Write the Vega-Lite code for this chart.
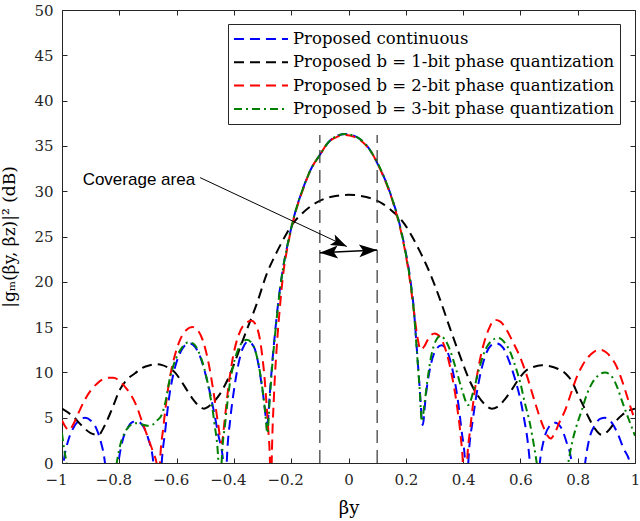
{
  "$schema": "https://vega.github.io/schema/vega-lite/v6.json",
  "width": 573,
  "height": 453,
  "autosize": "none",
  "padding": {"left": 62, "top": 10, "right": 5, "bottom": 58},
  "background": "white",
  "config": {
    "view": {"stroke": null},
    "axis": {
      "grid": false,
      "domainColor": "#262626",
      "tickColor": "#262626",
      "labelColor": "#262626",
      "titleColor": "#000000",
      "labelFont": "DejaVu Serif",
      "titleFont": "DejaVu Serif",
      "labelFontSize": 15,
      "titleFontSize": 17,
      "titleFontWeight": "normal",
      "domainWidth": 1,
      "tickWidth": 1
    }
  },
  "datasets": {
    "cont": [
      {"b":-1,"g":-1.5},{"b":-0.99,"g":1.0},{"b":-0.98,"g":2.3},{"b":-0.96,"g":3.9},{"b":-0.94,"g":4.7},{"b":-0.92,"g":5.0},{"b":-0.9,"g":4.7},{"b":-0.88,"g":3.8},{"b":-0.865,"g":2.4},{"b":-0.85,"g":0},{"b":-0.827,"g":-10},{"b":-0.803,"g":0},{"b":-0.79,"g":2.3},{"b":-0.77,"g":3.9},{"b":-0.755,"g":4.5},{"b":-0.739,"g":4.6},{"b":-0.72,"g":4.2},{"b":-0.7,"g":2.8},{"b":-0.681,"g":0},{"b":-0.667,"g":-10},{"b":-0.652,"g":0},{"b":-0.64,"g":3.5},{"b":-0.625,"g":7.5},{"b":-0.61,"g":10.0},{"b":-0.59,"g":12.0},{"b":-0.57,"g":13.0},{"b":-0.553,"g":13.2},{"b":-0.535,"g":12.8},{"b":-0.515,"g":11.5},{"b":-0.495,"g":9.3},{"b":-0.475,"g":6.5},{"b":-0.455,"g":3.2},{"b":-0.437,"g":0},{"b":-0.431,"g":-8},{"b":-0.425,"g":0},{"b":-0.412,"g":5.0},{"b":-0.4,"g":8.0},{"b":-0.385,"g":10.8},{"b":-0.37,"g":12.6},{"b":-0.35,"g":13.4},{"b":-0.33,"g":12.8},{"b":-0.315,"g":11.0},{"b":-0.3,"g":8.0},{"b":-0.283,"g":4.4},{"b":-0.275,"g":7.5},{"b":-0.265,"g":11.5},{"b":-0.255,"g":14.8},{"b":-0.245,"g":17.8},{"b":-0.23,"g":21.2},{"b":-0.21,"g":24.5},{"b":-0.19,"g":27.2},{"b":-0.16,"g":30.2},{"b":-0.13,"g":32.5},{"b":-0.1,"g":34.0},{"b":-0.07,"g":35.4},{"b":-0.04,"g":36.1},{"b":-0.012,"g":36.3},{"b":0.02,"g":36.1},{"b":0.05,"g":35.5},{"b":0.08,"g":34.3},{"b":0.105,"g":32.8},{"b":0.13,"g":31.1},{"b":0.155,"g":28.9},{"b":0.175,"g":26.8},{"b":0.195,"g":24.0},{"b":0.216,"g":20.2},{"b":0.228,"g":17.0},{"b":0.238,"g":12.8},{"b":0.248,"g":8.5},{"b":0.259,"g":4.2},{"b":0.27,"g":7.5},{"b":0.285,"g":10.5},{"b":0.305,"g":12.5},{"b":0.325,"g":13.0},{"b":0.345,"g":12.3},{"b":0.365,"g":10.0},{"b":0.38,"g":7.3},{"b":0.395,"g":3.5},{"b":0.407,"g":0},{"b":0.412,"g":-8},{"b":0.418,"g":0},{"b":0.435,"g":5.0},{"b":0.455,"g":9.0},{"b":0.475,"g":11.6},{"b":0.495,"g":12.9},{"b":0.517,"g":13.2},{"b":0.54,"g":12.7},{"b":0.56,"g":11.3},{"b":0.58,"g":9.4},{"b":0.6,"g":7.0},{"b":0.615,"g":4.5},{"b":0.625,"g":2.5},{"b":0.633,"g":0},{"b":0.65,"g":-10},{"b":0.668,"g":0},{"b":0.68,"g":2.3},{"b":0.7,"g":4.0},{"b":0.721,"g":4.45},{"b":0.74,"g":4.0},{"b":0.76,"g":2.4},{"b":0.779,"g":0},{"b":0.8,"g":-10},{"b":0.826,"g":0},{"b":0.84,"g":2.6},{"b":0.86,"g":4.2},{"b":0.88,"g":4.9},{"b":0.895,"g":5.0},{"b":0.92,"g":4.4},{"b":0.94,"g":3.2},{"b":0.96,"g":1.6},{"b":0.982,"g":0},{"b":1,"g":-6}
    ],
    "bit1": [
      {"b":-1,"g":6.0},{"b":-0.96,"g":5.1},{"b":-0.93,"g":4.1},{"b":-0.9,"g":3.3},{"b":-0.873,"g":3.1},{"b":-0.85,"g":4.2},{"b":-0.825,"g":6.0},{"b":-0.798,"g":8.1},{"b":-0.77,"g":9.3},{"b":-0.745,"g":9.9},{"b":-0.72,"g":10.5},{"b":-0.693,"g":10.8},{"b":-0.67,"g":10.9},{"b":-0.65,"g":10.8},{"b":-0.628,"g":10.5},{"b":-0.606,"g":10.0},{"b":-0.585,"g":9.1},{"b":-0.565,"g":8.1},{"b":-0.542,"g":7.0},{"b":-0.522,"g":6.3},{"b":-0.505,"g":6.0},{"b":-0.49,"g":6.2},{"b":-0.472,"g":6.7},{"b":-0.449,"g":7.6},{"b":-0.425,"g":9.0},{"b":-0.402,"g":10.7},{"b":-0.38,"g":12.6},{"b":-0.355,"g":14.7},{"b":-0.32,"g":17.6},{"b":-0.285,"g":20.9},{"b":-0.25,"g":23.3},{"b":-0.22,"g":25.1},{"b":-0.195,"g":26.4},{"b":-0.16,"g":27.6},{"b":-0.12,"g":28.6},{"b":-0.08,"g":29.2},{"b":-0.04,"g":29.5},{"b":0,"g":29.6},{"b":0.04,"g":29.5},{"b":0.08,"g":29.2},{"b":0.12,"g":28.6},{"b":0.16,"g":27.6},{"b":0.195,"g":26.4},{"b":0.22,"g":25.1},{"b":0.25,"g":23.3},{"b":0.285,"g":20.9},{"b":0.32,"g":18.0},{"b":0.355,"g":14.8},{"b":0.38,"g":12.6},{"b":0.4,"g":10.9},{"b":0.424,"g":9.0},{"b":0.45,"g":7.5},{"b":0.475,"g":6.5},{"b":0.5,"g":6.0},{"b":0.52,"g":6.2},{"b":0.545,"g":7.0},{"b":0.57,"g":8.1},{"b":0.595,"g":9.3},{"b":0.62,"g":10.2},{"b":0.645,"g":10.6},{"b":0.674,"g":10.8},{"b":0.7,"g":10.7},{"b":0.73,"g":10.4},{"b":0.76,"g":9.8},{"b":0.78,"g":9.0},{"b":0.8,"g":7.6},{"b":0.82,"g":6.3},{"b":0.837,"g":5.1},{"b":0.86,"g":3.8},{"b":0.884,"g":3.1},{"b":0.905,"g":3.5},{"b":0.93,"g":4.5},{"b":0.955,"g":5.3},{"b":0.98,"g":5.8},{"b":1,"g":6.0}
    ],
    "bit2": [
      {"b":-1,"g":4.7},{"b":-0.988,"g":4.0},{"b":-0.975,"g":3.6},{"b":-0.96,"g":4.3},{"b":-0.94,"g":5.7},{"b":-0.92,"g":7.0},{"b":-0.9,"g":8.0},{"b":-0.88,"g":8.7},{"b":-0.86,"g":9.2},{"b":-0.84,"g":9.4},{"b":-0.821,"g":9.4},{"b":-0.8,"g":9.1},{"b":-0.78,"g":8.4},{"b":-0.763,"g":7.7},{"b":-0.74,"g":6.3},{"b":-0.722,"g":4.7},{"b":-0.7,"g":2.8},{"b":-0.681,"g":1.1},{"b":-0.67,"g":0},{"b":-0.664,"g":-8},{"b":-0.658,"g":0},{"b":-0.646,"g":4.0},{"b":-0.635,"g":7.0},{"b":-0.623,"g":9.5},{"b":-0.605,"g":12.0},{"b":-0.588,"g":13.6},{"b":-0.565,"g":14.7},{"b":-0.545,"g":15.0},{"b":-0.525,"g":14.6},{"b":-0.505,"g":13.2},{"b":-0.487,"g":10.8},{"b":-0.47,"g":7.6},{"b":-0.455,"g":4.3},{"b":-0.443,"g":2.2},{"b":-0.432,"g":4.8},{"b":-0.42,"g":8.2},{"b":-0.405,"g":11.4},{"b":-0.385,"g":14.0},{"b":-0.36,"g":15.4},{"b":-0.338,"g":15.7},{"b":-0.32,"g":15.0},{"b":-0.305,"g":12.8},{"b":-0.292,"g":9.0},{"b":-0.282,"g":4.5},{"b":-0.274,"g":0},{"b":-0.271,"g":-6},{"b":-0.268,"g":0},{"b":-0.26,"g":7.5},{"b":-0.25,"g":13.0},{"b":-0.24,"g":17.0},{"b":-0.23,"g":20.3},{"b":-0.21,"g":24.3},{"b":-0.19,"g":27.1},{"b":-0.16,"g":30.1},{"b":-0.13,"g":32.5},{"b":-0.1,"g":34.0},{"b":-0.07,"g":35.4},{"b":-0.04,"g":36.0},{"b":-0.012,"g":36.2},{"b":0.02,"g":36.0},{"b":0.05,"g":35.4},{"b":0.08,"g":34.3},{"b":0.105,"g":32.8},{"b":0.13,"g":31.0},{"b":0.155,"g":28.8},{"b":0.175,"g":26.6},{"b":0.195,"g":23.8},{"b":0.216,"g":19.8},{"b":0.23,"g":16.3},{"b":0.24,"g":14.0},{"b":0.252,"g":12.5},{"b":0.265,"g":12.9},{"b":0.28,"g":13.8},{"b":0.3,"g":14.3},{"b":0.32,"g":13.9},{"b":0.34,"g":12.4},{"b":0.36,"g":9.8},{"b":0.38,"g":6.0},{"b":0.392,"g":2.8},{"b":0.399,"g":0},{"b":0.406,"g":-8},{"b":0.414,"g":0},{"b":0.425,"g":3.8},{"b":0.44,"g":7.8},{"b":0.455,"g":10.8},{"b":0.47,"g":12.9},{"b":0.49,"g":14.8},{"b":0.511,"g":15.8},{"b":0.53,"g":15.6},{"b":0.55,"g":14.8},{"b":0.57,"g":13.6},{"b":0.6,"g":11.6},{"b":0.625,"g":9.4},{"b":0.645,"g":7.3},{"b":0.665,"g":5.3},{"b":0.68,"g":4.0},{"b":0.695,"g":3.0},{"b":0.705,"g":2.7},{"b":0.72,"g":3.3},{"b":0.735,"g":4.4},{"b":0.756,"g":5.8},{"b":0.78,"g":8.0},{"b":0.797,"g":9.5},{"b":0.817,"g":10.8},{"b":0.837,"g":11.7},{"b":0.858,"g":12.3},{"b":0.878,"g":12.5},{"b":0.9,"g":12.2},{"b":0.915,"g":11.7},{"b":0.93,"g":11.0},{"b":0.948,"g":9.7},{"b":0.965,"g":8.1},{"b":0.983,"g":6.3},{"b":1,"g":4.7}
    ],
    "bit3": [
      {"b":-1,"g":3.3},{"b":-0.993,"g":1.6},{"b":-0.984,"g":0},{"b":-0.95,"g":-12},{"b":-0.9,"g":-20},{"b":-0.85,"g":-12},{"b":-0.809,"g":0},{"b":-0.795,"g":2.2},{"b":-0.78,"g":3.4},{"b":-0.76,"g":4.2},{"b":-0.739,"g":4.4},{"b":-0.72,"g":4.25},{"b":-0.7,"g":4.1},{"b":-0.685,"g":4.2},{"b":-0.668,"g":4.7},{"b":-0.652,"g":5.3},{"b":-0.64,"g":6.6},{"b":-0.623,"g":9.4},{"b":-0.6,"g":11.7},{"b":-0.58,"g":12.8},{"b":-0.56,"g":13.3},{"b":-0.543,"g":13.2},{"b":-0.525,"g":12.4},{"b":-0.505,"g":10.6},{"b":-0.485,"g":7.8},{"b":-0.468,"g":4.4},{"b":-0.454,"g":0},{"b":-0.449,"g":-8},{"b":-0.443,"g":0},{"b":-0.43,"g":4.5},{"b":-0.415,"g":8.6},{"b":-0.398,"g":11.3},{"b":-0.378,"g":13.0},{"b":-0.355,"g":13.6},{"b":-0.335,"g":13.1},{"b":-0.318,"g":11.5},{"b":-0.303,"g":8.8},{"b":-0.292,"g":6.0},{"b":-0.283,"g":3.3},{"b":-0.275,"g":7.0},{"b":-0.265,"g":11.2},{"b":-0.255,"g":14.6},{"b":-0.245,"g":17.6},{"b":-0.23,"g":21.2},{"b":-0.21,"g":24.5},{"b":-0.19,"g":27.2},{"b":-0.16,"g":30.2},{"b":-0.13,"g":32.5},{"b":-0.1,"g":34.0},{"b":-0.07,"g":35.4},{"b":-0.04,"g":36.1},{"b":-0.012,"g":36.3},{"b":0.02,"g":36.1},{"b":0.05,"g":35.5},{"b":0.08,"g":34.3},{"b":0.105,"g":32.9},{"b":0.13,"g":31.1},{"b":0.155,"g":28.9},{"b":0.175,"g":26.7},{"b":0.195,"g":23.9},{"b":0.216,"g":20.0},{"b":0.228,"g":16.8},{"b":0.238,"g":12.6},{"b":0.248,"g":8.3},{"b":0.256,"g":4.6},{"b":0.265,"g":6.5},{"b":0.275,"g":9.0},{"b":0.29,"g":12.0},{"b":0.305,"g":13.5},{"b":0.319,"g":14.0},{"b":0.335,"g":13.7},{"b":0.355,"g":12.4},{"b":0.375,"g":10.4},{"b":0.395,"g":8.2},{"b":0.418,"g":6.4},{"b":0.435,"g":7.8},{"b":0.455,"g":10.3},{"b":0.475,"g":12.3},{"b":0.5,"g":13.5},{"b":0.523,"g":13.8},{"b":0.545,"g":13.3},{"b":0.565,"g":12.2},{"b":0.58,"g":10.9},{"b":0.6,"g":8.8},{"b":0.615,"g":6.7},{"b":0.633,"g":4.4},{"b":0.648,"g":1.8},{"b":0.657,"g":0},{"b":0.71,"g":-15},{"b":0.767,"g":0},{"b":0.78,"g":2.2},{"b":0.795,"g":4.0},{"b":0.814,"g":5.8},{"b":0.83,"g":7.4},{"b":0.85,"g":8.8},{"b":0.87,"g":9.6},{"b":0.895,"g":10.0},{"b":0.92,"g":9.5},{"b":0.94,"g":8.2},{"b":0.953,"g":7.0},{"b":0.97,"g":5.5},{"b":0.988,"g":4.0},{"b":1,"g":3.0}
    ],
    "vlines": [{"b":-0.1,"lo":0,"hi":36.2},{"b":0.1,"lo":0,"hi":36.2}],
    "darrow": [{"b":-0.1,"g":23.2,"b2":0.1,"g2":23.5}],
    "leftHead": [{"b":-0.1,"g":23.2}],
    "rightHead": [{"b":0.1,"g":23.5}],
    "pointer": [{"b":-0.518,"g":31.5,"b2":-0.006,"g2":23.9}],
    "pointerHead": [{"b":-0.006,"g":23.9}],
    "label": [{"b":-0.928,"g":31.2,"t":"Coverage area"}]
  },
  "resolve": {"axis": {"x": "independent", "y": "independent"}},
  "layer": [
    {
      "data": {"name": "cont"},
      "mark": {"type": "line", "clip": true, "strokeWidth": 2, "interpolate": "monotone"},
      "encoding": {
        "x": {
          "field": "b", "type": "quantitative",
          "scale": {"domain": [-1, 1], "nice": false, "zero": false},
          "axis": {
            "orient": "bottom",
            "values": [-1, -0.8, -0.6, -0.4, -0.2, 0, 0.2, 0.4, 0.6, 0.8, 1],
            "format": "~g",
            "tickSize": -5,
            "labelPadding": 14,
            "labelFlush": false,
            "labelOverlap": false,
            "labelOffset": {"condition": {"test": "datum.value < 0", "value": -6}, "value": 0},
            "title": "βy",
            "titleFontSize": 18,
            "titlePadding": 12
          }
        },
        "y": {
          "field": "g", "type": "quantitative",
          "scale": {"domain": [0, 50], "nice": false, "zero": false},
          "axis": {
            "orient": "left",
            "values": [0, 5, 10, 15, 20, 25, 30, 35, 40, 45, 50],
            "tickSize": -5,
            "labelPadding": 14,
            "labelFlush": false,
            "labelOverlap": false,
            "title": "|gₘ(βy, βz)|² (dB)",
            "titlePadding": 15
          }
        },
        "color": {
          "datum": "Proposed continuous", "type": "nominal",
          "scale": {
            "domain": ["Proposed continuous", "Proposed b = 1-bit phase quantization", "Proposed b = 2-bit phase quantization", "Proposed b = 3-bit phase quantization"],
            "range": ["#0000FF", "#000000", "#FF0000", "#008000"]
          },
          "legend": {
            "orient": "none", "legendX": 166, "legendY": 14, "title": null,
            "symbolType": "stroke", "symbolSize": 2916, "symbolStrokeWidth": 2,
            "labelFont": "DejaVu Serif", "labelFontSize": 16.5, "labelColor": "#000000",
            "labelLimit": 500, "labelOffset": 4, "padding": 5, "rowPadding": 3.3,
            "clipHeight": 20, "fillColor": "white", "strokeColor": "#262626", "cornerRadius": 0
          }
        },
        "strokeDash": {
          "datum": "Proposed continuous", "type": "nominal",
          "scale": {
            "domain": ["Proposed continuous", "Proposed b = 1-bit phase quantization", "Proposed b = 2-bit phase quantization", "Proposed b = 3-bit phase quantization"],
            "range": [[10, 6], [10, 6], [10, 6], [8, 4, 2, 4]]
          },
          "legend": {
            "orient": "none", "legendX": 166, "legendY": 14, "title": null,
            "symbolType": "stroke", "symbolSize": 2916, "symbolStrokeWidth": 2,
            "labelFont": "DejaVu Serif", "labelFontSize": 16.5, "labelColor": "#000000",
            "labelLimit": 500, "labelOffset": 4, "padding": 5, "rowPadding": 3.3,
            "clipHeight": 20, "fillColor": "white", "strokeColor": "#262626", "cornerRadius": 0
          }
        }
      }
    },
    {
      "data": {"name": "bit1"},
      "mark": {"type": "line", "clip": true, "strokeWidth": 2, "interpolate": "monotone"},
      "encoding": {
        "x": {"field": "b", "type": "quantitative", "axis": null},
        "y": {"field": "g", "type": "quantitative", "axis": null},
        "color": {"datum": "Proposed b = 1-bit phase quantization", "type": "nominal"},
        "strokeDash": {"datum": "Proposed b = 1-bit phase quantization", "type": "nominal"}
      }
    },
    {
      "data": {"name": "bit2"},
      "mark": {"type": "line", "clip": true, "strokeWidth": 2, "interpolate": "monotone"},
      "encoding": {
        "x": {"field": "b", "type": "quantitative", "axis": null},
        "y": {"field": "g", "type": "quantitative", "axis": null},
        "color": {"datum": "Proposed b = 2-bit phase quantization", "type": "nominal"},
        "strokeDash": {"datum": "Proposed b = 2-bit phase quantization", "type": "nominal"}
      }
    },
    {
      "data": {"name": "bit3"},
      "mark": {"type": "line", "clip": true, "strokeWidth": 2, "interpolate": "monotone"},
      "encoding": {
        "x": {"field": "b", "type": "quantitative", "axis": null},
        "y": {"field": "g", "type": "quantitative", "axis": null},
        "color": {"datum": "Proposed b = 3-bit phase quantization", "type": "nominal"},
        "strokeDash": {"datum": "Proposed b = 3-bit phase quantization", "type": "nominal"}
      }
    },
    {
      "data": {"name": "vlines"},
      "mark": {"type": "rule", "color": "#333333", "strokeWidth": 1.2, "strokeDash": [13, 7]},
      "encoding": {
        "x": {
          "field": "b", "type": "quantitative",
          "axis": {
            "orient": "top",
            "values": [-1, -0.8, -0.6, -0.4, -0.2, 0, 0.2, 0.4, 0.6, 0.8, 1],
            "tickSize": -5, "labels": false, "title": null
          }
        },
        "y": {
          "field": "lo", "type": "quantitative",
          "axis": {
            "orient": "right",
            "values": [0, 5, 10, 15, 20, 25, 30, 35, 40, 45, 50],
            "tickSize": -5, "labels": false, "title": null
          }
        },
        "y2": {"field": "hi"}
      }
    },
    {
      "data": {"name": "darrow"},
      "mark": {"type": "rule", "color": "#000000", "strokeWidth": 1.5},
      "encoding": {
        "x": {"field": "b", "type": "quantitative", "axis": null},
        "y": {"field": "g", "type": "quantitative", "axis": null},
        "x2": {"field": "b2"},
        "y2": {"field": "g2"}
      }
    },
    {
      "data": {"name": "pointer"},
      "mark": {"type": "rule", "color": "#000000", "strokeWidth": 1},
      "encoding": {
        "x": {"field": "b", "type": "quantitative", "axis": null},
        "y": {"field": "g", "type": "quantitative", "axis": null},
        "x2": {"field": "b2"},
        "y2": {"field": "g2"}
      }
    },
    {
      "data": {"name": "leftHead"},
      "mark": {"type": "point", "shape": "M0,0L-2,-0.72L-1.55,0L-2,0.72Z", "size": 324, "filled": true, "color": "#000000", "opacity": 1, "angle": 177.5},
      "encoding": {
        "x": {"field": "b", "type": "quantitative", "axis": null},
        "y": {"field": "g", "type": "quantitative", "axis": null}
      }
    },
    {
      "data": {"name": "rightHead"},
      "mark": {"type": "point", "shape": "M0,0L-2,-0.72L-1.55,0L-2,0.72Z", "size": 324, "filled": true, "color": "#000000", "opacity": 1, "angle": -2.5},
      "encoding": {
        "x": {"field": "b", "type": "quantitative", "axis": null},
        "y": {"field": "g", "type": "quantitative", "axis": null}
      }
    },
    {
      "data": {"name": "pointerHead"},
      "mark": {"type": "point", "shape": "M0,0L-2,-0.72L-1.55,0L-2,0.72Z", "size": 256, "filled": true, "color": "#000000", "opacity": 1, "angle": 25},
      "encoding": {
        "x": {"field": "b", "type": "quantitative", "axis": null},
        "y": {"field": "g", "type": "quantitative", "axis": null}
      }
    },
    {
      "data": {"name": "label"},
      "mark": {"type": "text", "font": "Liberation Sans", "fontSize": 17, "align": "left", "baseline": "middle", "color": "#000000"},
      "encoding": {
        "x": {"field": "b", "type": "quantitative", "axis": null},
        "y": {"field": "g", "type": "quantitative", "axis": null},
        "text": {"field": "t"}
      }
    }
  ]
}
